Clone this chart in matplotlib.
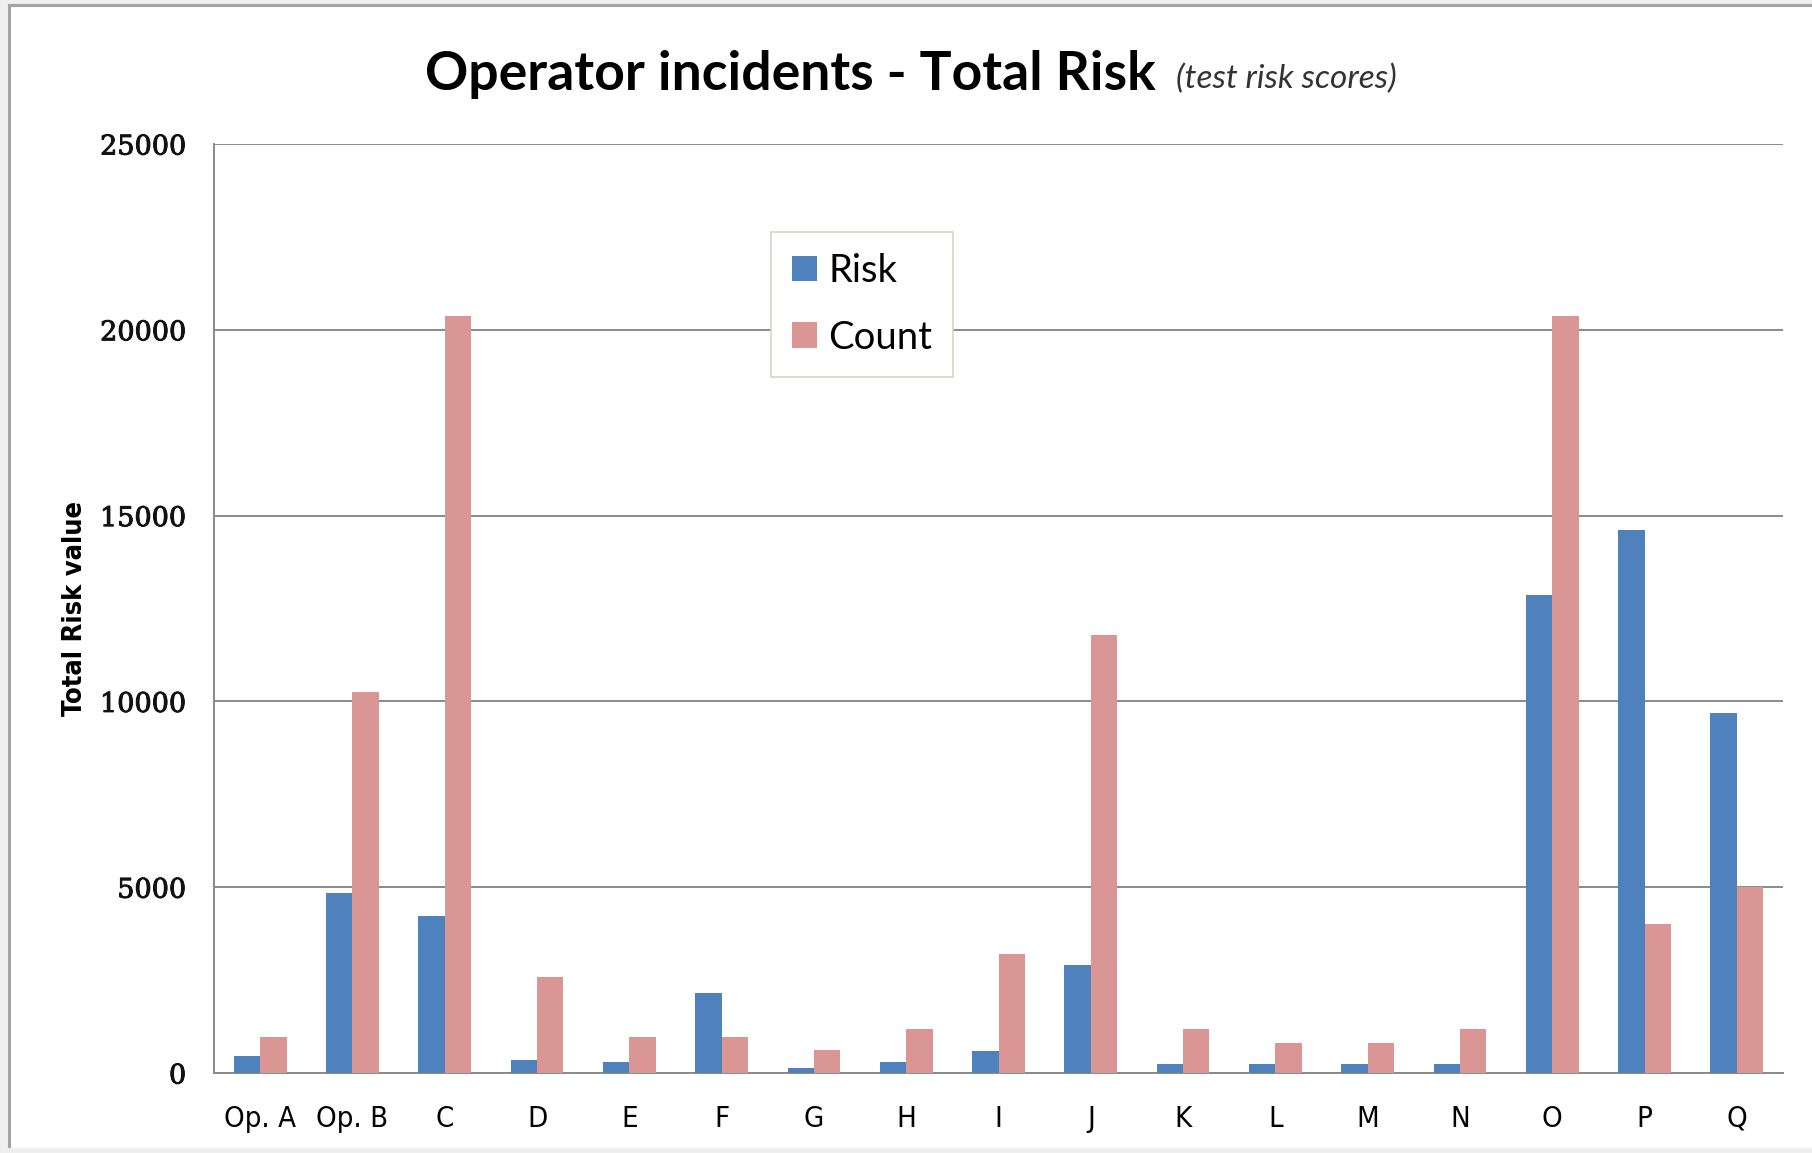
import numpy as np
import matplotlib.pyplot as plt
import matplotlib.patheffects as pe
from matplotlib.patches import Rectangle

# Operator incident totals
operators = ['Op. A', 'Op. B', 'C', 'D', 'E', 'F', 'G', 'H', 'I',
             'J', 'K', 'L', 'M', 'N', 'O', 'P', 'Q']
risk = [450, 4850, 4220, 350, 290, 2150, 130, 290, 600,
        2900, 240, 240, 240, 240, 12850, 14620, 9700]
count = [970, 10240, 20360, 2580, 970, 970, 610, 1190, 3210,
         11800, 1190, 820, 820, 1190, 20380, 4000, 5000]
y_ticks = [0, 5000, 10000, 15000, 20000, 25000]

RISK_COLOR = '#4F81BD'
COUNT_COLOR = '#D99694'
GRID_COLOR = '#8a8a8a'
BG = '#efefef'

narrow = ['Liberation Sans Narrow', 'DejaVu Sans']

fig = plt.figure(figsize=(18.12, 11.53), dpi=100, facecolor=BG)

# white chart panel with a grey frame on the left and top
fig.patches.append(Rectangle((9 / 1812, -0.05), 1.1, 1.05 - 5 / 1153,
                             transform=fig.transFigure, facecolor='white',
                             edgecolor='#a4a4a4', linewidth=2.2, zorder=-2))
fig.patches.append(Rectangle((0, 0), 1, 5 / 1153, transform=fig.transFigure,
                             facecolor=BG, edgecolor='none', zorder=-1))

ax = fig.add_axes([214 / 1812, 1 - 1073 / 1153,
                   (1783 - 214) / 1812, (1073 - 144) / 1153])
ax.set_facecolor('white')

x = np.arange(len(operators))
w = 0.286
b1 = ax.bar(x - w / 2, risk, w, color=RISK_COLOR, label='Risk', zorder=3)
b2 = ax.bar(x + w / 2, count, w, color=COUNT_COLOR, label='Count', zorder=3)

ax.set_xlim(-0.5, len(operators) - 0.5)
ax.set_ylim(0, 25000)
ax.set_yticks(y_ticks)
ylabels = ax.set_yticklabels([str(v) for v in y_ticks],
                             fontfamily='DejaVu Serif', fontsize=19.5,
                             color='#111111')
for t in ylabels:
    t.set_path_effects([pe.withStroke(linewidth=0.7, foreground='#111111')])
ax.set_xticks(x)
ax.set_xticklabels(operators, fontfamily=narrow, fontsize=21,
                   fontstretch='condensed')
ax.tick_params(axis='y', length=0, pad=20)
ax.tick_params(axis='x', length=0, pad=23)

ax.yaxis.grid(True, color=GRID_COLOR, linewidth=1.4, zorder=1)
ax.set_axisbelow(True)
for side in ['top', 'right']:
    ax.spines[side].set_visible(False)
for side in ['left', 'bottom']:
    ax.spines[side].set_color(GRID_COLOR)
    ax.spines[side].set_linewidth(1.4)

ax.set_ylabel('Total Risk value', fontfamily=narrow, fontweight='bold',
              fontsize=19.5, fontstretch='condensed')
ax.yaxis.set_label_coords(-0.08, 0.5)

# title with italic note
fig.text(425 / 1812, 1 - 90 / 1153, 'Operator incidents - Total Risk',
         fontfamily='Lato', fontweight='bold', fontsize=38.5, va='baseline')
fig.text(1176 / 1812, 1 - 88 / 1153, '(test risk scores)',
         fontfamily='Lato', fontstyle='italic', fontsize=24,
         color='#333333', va='baseline')

leg = ax.legend(handles=[b1, b2], loc='upper left',
                bbox_to_anchor=(771 / 1812, 1 - 232 / 1153),
                bbox_transform=fig.transFigure, fancybox=False,
                edgecolor='#d6d6c4', framealpha=1,
                prop={'family': 'Lato', 'size': 27.5},
                handlelength=0.65, handleheight=0.65, handletextpad=0.3,
                labelspacing=0.8, borderpad=0.55, borderaxespad=0)
leg.get_frame().set_linewidth(1.2)
leg.set_zorder(5)

fig.savefig('out.png', dpi=100, facecolor=fig.get_facecolor())
